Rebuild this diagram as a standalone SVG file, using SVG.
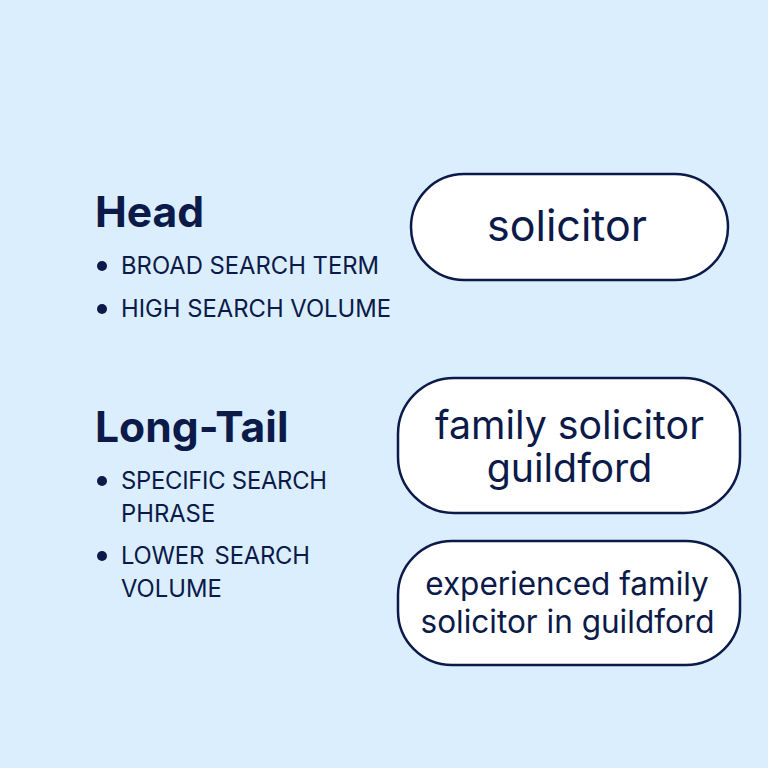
<svg xmlns="http://www.w3.org/2000/svg" width="768" height="768" viewBox="0 0 768 768">
<style>
text{font-family:Inter,"Liberation Sans",sans-serif;fill:#0b1a48}
.h{font-size:42.600px;font-weight:700}
.b{font-size:23.800px}
.p{fill:#fff;stroke:#0b1a48;stroke-width:2.500}
.c{text-anchor:middle}
.d{fill:#0b1a48}
</style>
<rect width="768" height="768" fill="#dbeefe"/>
<g id="head-text">
<text class="h" x="95" y="227">Head</text>
<circle class="d" cx="102" cy="266" r="5"/><text class="b" x="121" y="274">BROAD SEARCH TERM</text>
<circle class="d" cx="102" cy="309" r="5"/><text class="b" x="121" y="316.500">HIGH SEARCH VOLUME</text>
</g>
<g id="longtail-text">
<text class="h" x="95" y="442">Long-Tail</text>
<circle class="d" cx="102" cy="481" r="5"/><text class="b" x="121" y="488.500" textLength="206">SPECIFIC SEARCH</text><text class="b" x="121" y="521.500">PHRASE</text>
<circle class="d" cx="102" cy="556" r="5"/><text class="b" x="121" y="564" textLength="189" word-spacing="4">LOWER SEARCH</text><text class="b" x="121" y="596.500">VOLUME</text>
</g>
<g id="node1"><rect class="p" x="411" y="174" width="317" height="106" rx="53"/><text class="c" x="567" y="241" font-size="43">solicitor</text></g>
<g id="node2"><rect class="p" x="398" y="378" width="342" height="135" rx="56"/><text class="c" x="569.500" y="439" font-size="39.300">family solicitor</text><text class="c" x="569.500" y="482" font-size="39.300">guildford</text></g>
<g id="node3"><rect class="p" x="398" y="541" width="342" height="124" rx="54"/><text class="c" x="567" y="595" font-size="31.500">experienced family</text><text class="c" x="567.500" y="633" font-size="31.500">solicitor in guildford</text></g>
<g id="connectors"/>
</svg>
